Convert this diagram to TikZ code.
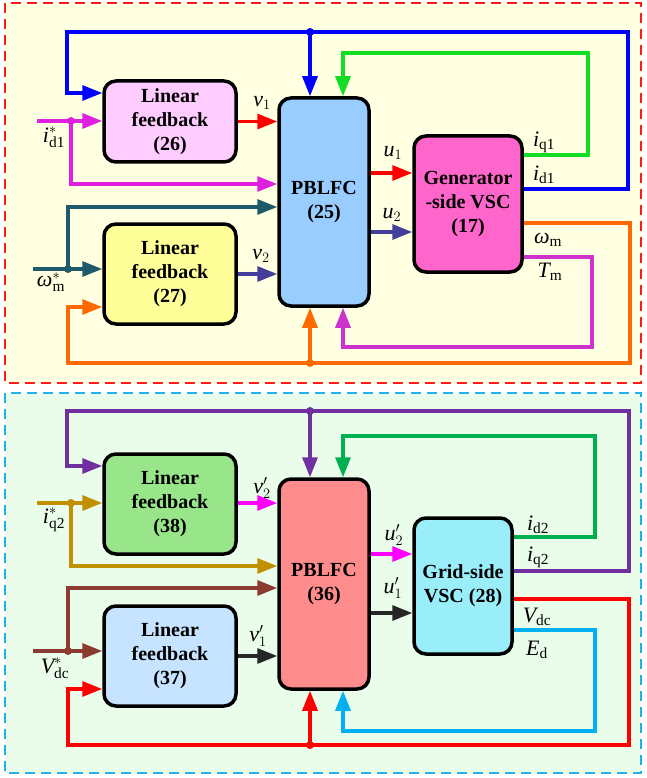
\documentclass[tikz,border=0pt]{standalone}
\usepackage{fontspec}
\setmainfont{Liberation Serif}
\usetikzlibrary{arrows.meta}

\definecolor{bgtop}{HTML}{FFFFE2}
\definecolor{bgbot}{HTML}{EAFCEA}
\definecolor{rimtop}{HTML}{FF1A1A}
\definecolor{rimbot}{HTML}{22B4E8}
\definecolor{fillA}{HTML}{FFCCFF}
\definecolor{fillB}{HTML}{99CCFF}
\definecolor{fillC}{HTML}{FF66CC}
\definecolor{fillD}{HTML}{FFFF99}
\definecolor{fillE}{HTML}{99E68A}
\definecolor{fillF}{HTML}{FF8C8C}
\definecolor{fillG}{HTML}{99EEFA}
\definecolor{fillH}{HTML}{C6E3FF}
\definecolor{wRed}{HTML}{FF0000}
\definecolor{wBlue}{HTML}{0000FF}
\definecolor{wGreen}{HTML}{11DD22}
\definecolor{wMag}{HTML}{E020E0}
\definecolor{wTeal}{HTML}{1F5A6A}
\definecolor{wInd}{HTML}{443D99}
\definecolor{wOrange}{HTML}{FF6A00}
\definecolor{wOrch}{HTML}{CC33CC}
\definecolor{wPurple}{HTML}{7030A0}
\definecolor{wGreenB}{HTML}{00B050}
\definecolor{wGold}{HTML}{C09000}
\definecolor{wPink}{HTML}{FF00FF}
\definecolor{wBrown}{HTML}{8B3B30}
\definecolor{wDark}{HTML}{262626}
\definecolor{wCyan}{HTML}{00B0F0}

\begin{document}
\begin{tikzpicture}[x=1pt,y=-1pt,
  blk/.style={draw,line width=3.5pt,rounded corners=12pt,align=center,
    inner sep=0pt,font=\bfseries\fontsize{20}{24}\selectfont},
  wire/.style={line width=3.2pt},
  arr/.style={wire,-{Triangle[length=20pt,width=15pt]}},
  lbl/.style={inner sep=0pt,font=\fontsize{22}{24}\selectfont}]
  \useasboundingbox (0,0) rectangle (646,778);

  % panels
  \draw[fill=bgtop,draw=rimtop,line width=1.5pt,dash pattern=on 10pt off 6pt] (5,3) rectangle (641,383);
  \draw[fill=bgbot,draw=rimbot,line width=1.5pt,dash pattern=on 10pt off 6pt] (5,393) rectangle (641,773);

  % generator side
  \node[blk,fill=fillA,minimum width=132pt,minimum height=81pt] (lf26) at (170,121.5) {Linear\\feedback\\(26)};
  \node[blk,fill=fillB,minimum width=90pt,minimum height=208pt] (pb25) at (324,202) {PBLFC\\(25)};
  \node[blk,fill=fillC,minimum width=108pt,minimum height=136pt] (vsc17) at (468,204) {Generator\\-side VSC\\(17)};
  \node[blk,fill=fillD,minimum width=132pt,minimum height=100pt] (lf27) at (170,274) {Linear\\feedback\\(27)};

  \draw[arr,wRed] (lf26.east) -- (lf26.east -| pb25.west);
  \draw[arr,wInd] (lf27.east) -- (lf27.east -| pb25.west);
  \draw[arr,wRed] (pb25.east |- 0,173) -- (vsc17.west |- 0,173);
  \draw[arr,wInd] (pb25.east |- 0,232) -- (vsc17.west |- 0,232);

  \coordinate (bj) at (310,32);
  \draw[arr,wBlue] (vsc17.east |- 0,189) -- (628,189) -- (628,32) -- (67,32) -- (67,93) -- (lf26.west |- 0,93);
  \draw[arr,wBlue] (bj) -- (bj |- pb25.north);
  \fill[wBlue] (bj) circle (4pt);
  \draw[arr,wGreen] (vsc17.east |- 0,155) -- (588,155) -- (588,53) -- (343,53) -- (343,53 |- pb25.north);

  \coordinate (jd) at (71,121);
  \draw[arr,wMag] (37,121) -- (lf26.west |- jd);
  \draw[arr,wMag] (jd) -- (71,184) -- (pb25.west |- 0,184);
  \fill[wMag] (jd) circle (4pt);

  \coordinate (jw) at (68,269);
  \draw[arr,wTeal] (33,269) -- (lf27.west |- jw);
  \draw[arr,wTeal] (jw) -- (68,207) -- (pb25.west |- 0,207);
  \fill[wTeal] (jw) circle (4pt);

  \coordinate (oj) at (310,363);
  \draw[arr,wOrange] (vsc17.east |- 0,223) -- (630,223) -- (630,363) -- (68,363) -- (68,307) -- (lf27.west |- 0,307);
  \draw[arr,wOrange] (oj) -- (oj |- pb25.south);
  \fill[wOrange] (oj) circle (4pt);
  \draw[arr,wOrch] (vsc17.east |- 0,257) -- (592,257) -- (592,347) -- (343,347) -- (343,347 |- pb25.south);

  \node[lbl] (tv1) at (262,103) {$\textit{v}_{1}$};
  \node[lbl] (tv2) at (261,256) {$\textit{v}_{2}$};
  \node[lbl] (tu1) at (393,153) {$\textit{u}_{1}$};
  \node[lbl] (tu2) at (392,215) {$\textit{u}_{2}$};
  \node[lbl] (tid1r) at (54,137) {$\textit{i}^{*}_{\mathrm{d1}}$};
  \node[lbl] (twr) at (51,282) {$\textit{ω}^{*}_{\mathrm{m}}$};
  \node[lbl] (tiq1) at (544,142) {$\textit{i}_{\mathrm{q1}}$};
  \node[lbl] (tid1) at (544,175) {$\textit{i}_{\mathrm{d1}}$};
  \node[lbl] (twm) at (548,240) {$\textit{ω}_{\mathrm{m}}$};
  \node[lbl] (ttm) at (550,272) {$\textit{T}_{\mathrm{m}}$};

  % grid side
  \node[blk,fill=fillE,minimum width=132pt,minimum height=100pt] (lf38) at (170,504) {Linear\\feedback\\(38)};
  \node[blk,fill=fillF,minimum width=90pt,minimum height=210pt] (pb36) at (324,584) {PBLFC\\(36)};
  \node[blk,fill=fillG,minimum width=98pt,minimum height=136pt] (vsc28) at (463,586) {Grid-side\\VSC (28)};
  \node[blk,fill=fillH,minimum width=132pt,minimum height=100pt] (lf37) at (170,656) {Linear\\feedback\\(37)};

  \draw[arr,wPink] (lf38.east |- 0,503) -- (pb36.west |- 0,503);
  \draw[arr,wDark] (lf37.east) -- (lf37.east -| pb36.west);
  \draw[arr,wPink] (pb36.east |- 0,554) -- (vsc28.west |- 0,554);
  \draw[arr,wDark] (pb36.east |- 0,613) -- (vsc28.west |- 0,613);

  \coordinate (pj) at (310,411);
  \draw[arr,wPurple] (vsc28.east |- 0,571) -- (629,571) -- (629,411) -- (67,411) -- (67,466) -- (lf38.west |- 0,466);
  \draw[arr,wPurple] (pj) -- (pj |- pb36.north);
  \fill[wPurple] (pj) circle (4pt);
  \draw[arr,wGreenB] (vsc28.east |- 0,537) -- (595,537) -- (595,436) -- (343,436) -- (343,436 |- pb36.north);

  \coordinate (jq) at (71,503);
  \draw[arr,wGold] (37,503) -- (lf38.west |- jq);
  \draw[arr,wGold] (jq) -- (71,566) -- (pb36.west |- 0,566);
  \fill[wGold] (jq) circle (4pt);

  \coordinate (jv) at (68,651);
  \draw[arr,wBrown] (33,651) -- (lf37.west |- jv);
  \draw[arr,wBrown] (jv) -- (68,588) -- (pb36.west |- 0,588);
  \fill[wBrown] (jv) circle (4pt);

  \coordinate (rj) at (310,745);
  \draw[arr,wRed] (vsc28.east |- 0,599) -- (629,599) -- (629,745) -- (68,745) -- (68,689) -- (lf37.west |- 0,689);
  \draw[arr,wRed] (rj) -- (rj |- pb36.south);
  \fill[wRed] (rj) circle (4pt);
  \draw[arr,wCyan] (vsc28.east |- 0,630) -- (595,630) -- (595,731) -- (343,731) -- (343,731 |- pb36.south);

  \node[lbl] (tv2p) at (262,488) {$\textit{v}'_{2}$};
  \node[lbl] (tv1p) at (258,636) {$\textit{v}'_{1}$};
  \node[lbl] (tu2p) at (394,535) {$\textit{u}'_{2}$};
  \node[lbl] (tu1p) at (393,588) {$\textit{u}'_{1}$};
  \node[lbl] (tiq2r) at (54,520) {$\textit{i}^{*}_{\mathrm{q2}}$};
  \node[lbl] (tvdcr) at (55,668) {$\textit{V}^{*}_{\mathrm{dc}}$};
  \node[lbl] (tid2) at (538,525) {$\textit{i}_{\mathrm{d2}}$};
  \node[lbl] (tiq2) at (538,557) {$\textit{i}_{\mathrm{q2}}$};
  \node[lbl] (tvdc) at (537,617) {$\textit{V}_{\mathrm{dc}}$};
  \node[lbl] (ted) at (537,650) {$\textit{E}_{\mathrm{d}}$};
\end{tikzpicture}
\end{document}
